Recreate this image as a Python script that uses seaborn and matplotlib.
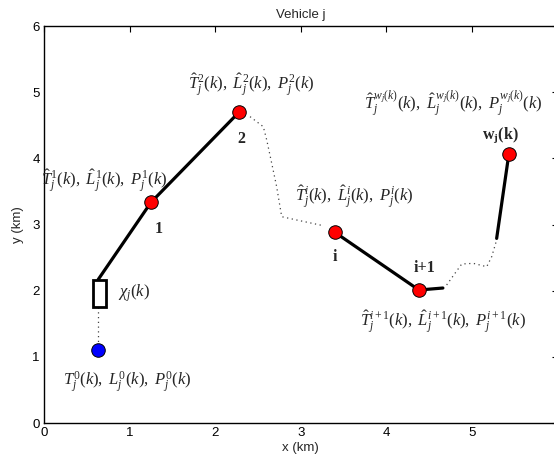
import matplotlib
matplotlib.use("Agg")
import matplotlib.pyplot as plt
import seaborn as sns
from matplotlib.patches import Rectangle

# Start position of vehicle j
origin_x = [0.627]
origin_y = [1.10]

# Waypoints 1, 2, i, i+1, w_j(k)
wp_x = [1.25, 2.28, 3.40, 4.38, 5.43]
wp_y = [3.335, 4.70, 2.88, 2.01, 4.06]
wp_names = ["1", "2", "i", "i+1", r"$\mathbf{w_j(k)}$"]

# Vehicle body (current position chi_j(k))
box_cx, box_cy, box_w, box_h = 0.646, 1.96, 0.155, 0.41

# Planned (solid) legs
leg_a_x = [0.634, 1.25, 2.28]
leg_a_y = [2.17, 3.335, 4.70]
leg_b_x = [3.40, 4.38, 4.66]
leg_b_y = [2.88, 2.01, 2.04]
leg_c_x = [5.288, 5.43]
leg_c_y = [2.79, 4.06]

# Unplanned (dotted) legs
dot0_x = [0.627, 0.627]
dot0_y = [1.75, 1.10]
dot1_x = [2.407, 2.562, 2.602, 2.652, 2.718, 2.757, 2.777, 2.952, 3.263]
dot1_y = [4.63, 4.478, 4.277, 3.975, 3.571, 3.269, 3.118, 3.068, 2.982]
dot2_x = [4.704, 4.801, 4.880, 5.015, 5.172, 5.230, 5.288]
dot2_y = [2.086, 2.262, 2.403, 2.413, 2.362, 2.513, 2.766]

# Estimate annotations
labels = [
    r"$T_j^0(k),\ L_j^0(k),\ P_j^0(k)$",
    r"$\hat{T}_j^1(k),\ \hat{L}_j^1(k),\ P_j^1(k)$",
    r"$\hat{T}_j^2(k),\ \hat{L}_j^2(k),\ P_j^2(k)$",
    r"$\hat{T}_j^i(k),\ \hat{L}_j^i(k),\ P_j^i(k)$",
    r"$\hat{T}_j^{i+1}(k),\ \hat{L}_j^{i+1}(k),\ P_j^{i+1}(k)$",
    r"$\hat{T}_j^{w_j(k)}(k),\ \hat{L}_j^{w_j(k)}(k),\ P_j^{w_j(k)}(k)$",
]
label_x = [0.975, 0.70, 2.42, 3.62, 4.66, 4.78]
label_y = [0.62, 3.66, 5.12, 3.42, 1.53, 4.83]
name_x = [1.34, 2.31, 3.40, 4.45, 5.33]
name_y = [2.93, 4.29, 2.51, 2.34, 4.35]

x_ticks = [0, 1, 2, 3, 4, 5, 6]
y_ticks = [0, 1, 2, 3, 4, 5, 6]

sns.set_style("white")
plt.rcParams["font.family"] = ["Liberation Sans", "DejaVu Sans"]
plt.rcParams["mathtext.fontset"] = "custom"
plt.rcParams["mathtext.rm"] = "Liberation Serif"
plt.rcParams["mathtext.it"] = "Liberation Serif:italic"
plt.rcParams["mathtext.bf"] = "Liberation Serif:bold"

fig = plt.figure(figsize=(5.54, 4.69), dpi=100)
ax = fig.add_axes([44 / 554, 46 / 469, 513.6 / 554, 397 / 469])

solid_kw = dict(color="black", linewidth=2.3, sort=False, estimator=None, ax=ax, legend=False)
for lx, ly in [(leg_a_x, leg_a_y), (leg_b_x, leg_b_y), (leg_c_x, leg_c_y)]:
    sns.lineplot(x=lx, y=ly, **solid_kw)

for lx, ly in [(dot0_x, dot0_y), (dot1_x, dot1_y), (dot2_x, dot2_y)]:
    sns.lineplot(x=lx, y=ly, color="#444444", linewidth=0.9, sort=False,
                 estimator=None, ax=ax, legend=False)
for line in ax.lines[3:]:
    line.set_dashes([1, 2.8])

ax.add_patch(Rectangle((box_cx - box_w / 2, box_cy - box_h / 2), box_w, box_h,
                       facecolor="white", edgecolor="black", linewidth=2.0, zorder=3))

sns.scatterplot(x=origin_x, y=origin_y, color="#0000ff", edgecolor="black",
                s=95, linewidth=0.7, ax=ax, zorder=5, legend=False)
sns.scatterplot(x=wp_x, y=wp_y, color="#ff0000", edgecolor="black",
                s=95, linewidth=0.7, ax=ax, zorder=5, legend=False)

for txt, tx, ty in zip(labels, label_x, label_y):
    ax.text(tx, ty, txt, fontsize=12, ha="center", va="center")

for txt, tx, ty in zip(wp_names, name_x, name_y):
    ax.text(tx, ty, txt, fontsize=11.5, ha="center", va="center",
            fontweight="bold", family="Liberation Serif")

ax.text(0.87, 1.96, r"$\chi_j(k)$", fontsize=12, ha="left", va="center")

ax.set_xlim(0, 6)
ax.set_ylim(0, 6)
ax.set_xticks(x_ticks)
ax.set_yticks(y_ticks)
ax.tick_params(direction="in", length=4, width=0.8, labelsize=9.5,
               top=True, right=True, colors="black", pad=3)
for s in ax.spines.values():
    s.set_color("black")
    s.set_linewidth(1.0)
ax.set_xlabel("x (km)", fontsize=9.5, labelpad=2)
ax.set_ylabel("y (km)", fontsize=9.5, labelpad=6)
ax.set_title("Vehicle j", fontsize=9.5, pad=6)

fig.savefig("out.png", dpi=100)
